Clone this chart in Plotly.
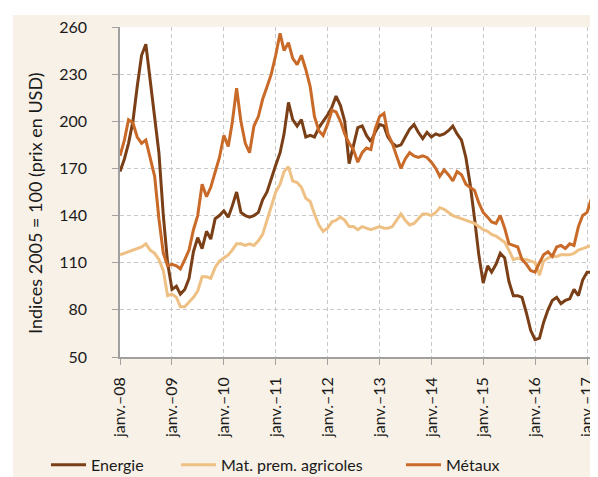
import pandas as pd
import plotly.graph_objects as go

dates = pd.date_range("2008-01-01", periods=111, freq="MS")

energie = [
    168, 176, 186, 200, 222, 242, 249, 225, 205, 180, 140, 110,
    93, 95, 90, 93, 100, 117, 126, 119, 130, 125, 138, 140,
    143, 139, 146, 155, 142, 140, 139, 140, 142, 150, 155, 164,
    172, 180, 192, 212, 201, 197, 201, 190, 191, 190, 196, 200,
    204, 209, 216, 210, 200, 173, 185, 196, 197, 191, 187, 193,
    198, 197, 190, 186, 184, 185, 190, 195, 198, 193, 189, 193,
    190, 192, 191, 192, 194, 197, 192, 188, 177, 160, 138, 115,
    97, 108, 104, 109, 116, 113, 98, 89, 89, 88, 78, 67,
    61, 62, 72, 80, 86, 88, 84, 86, 87, 93, 89, 99,
    104, 104, 96,
]

agricoles = [
    115, 116, 117, 118, 119, 120, 122, 118, 116, 112, 105, 89,
    90, 88, 82, 82, 85, 88, 92, 101, 101, 100, 107, 111,
    113, 115, 118, 122, 122, 121, 122, 121, 124, 128, 137, 146,
    155, 160, 168, 171, 162, 161, 158, 151, 149, 141, 134, 130,
    132, 136, 137, 139, 137, 133, 133, 131, 133, 132, 131, 132,
    133, 132, 132, 133, 137, 141, 137, 134, 135, 138, 141, 141,
    140, 142, 145, 144, 142, 140, 139, 138, 137, 136, 135, 133,
    131, 130, 128, 127, 125, 123, 118, 112, 113, 112, 112, 111,
    110, 102, 111, 113, 114, 114, 115, 115, 115, 116, 118, 119,
    120, 121, 121,
]

metaux = [
    178, 188, 201, 199, 190, 186, 188, 176, 165, 138, 116, 108,
    109, 108, 106, 112, 118, 131, 140, 160, 152, 158, 167, 177,
    191, 184, 199, 221, 200, 186, 180, 197, 203, 214, 222, 230,
    242, 256, 245, 250, 240, 236, 242, 233, 222, 203, 194, 191,
    198, 207, 206, 200, 192, 186, 182, 174, 180, 183, 182, 195,
    203, 205, 192, 186, 178, 170, 176, 180, 178, 177, 178, 177,
    174, 170, 165, 169, 166, 162, 168, 166, 160, 158, 156, 148,
    142, 139, 136, 135, 140, 132, 122, 121, 120, 112, 109, 105,
    104, 110, 115, 117, 114, 120, 121, 119, 122, 121, 133, 140,
    142, 151, 148,
]

series_names = ["Energie", "Mat. prem. agricoles", "Métaux"]
series_colors = ["#7a3f16", "#efc084", "#c96a28"]
legend_ids = ["legend", "legend2", "legend3"]
legend_x = [-0.1548, 0.1171, 0.5878]

years = list(range(2008, 2018))
tick_vals = [pd.Timestamp(f"{y}-01-01") for y in years]
tick_text = [f"janv.–{str(y)[2:]}" for y in years]
y_ticks = [50, 80, 110, 140, 170, 200, 230, 260]

FONT = "Lato, 'Liberation Sans', Arial, sans-serif"

fig = go.Figure()
for name, vals, col, lg in zip(series_names, [energie, agricoles, metaux],
                               series_colors, legend_ids):
    fig.add_trace(go.Scatter(x=dates, y=vals, mode="lines", name=name,
                             line=dict(color=col, width=3), legend=lg))

legend_common = dict(orientation="h", xanchor="left", y=-0.327, yanchor="middle",
                     bgcolor="rgba(0,0,0,0)", font=dict(size=16), itemwidth=35)

# white page border around the beige panel (as in the reference)
border_shapes = [
    dict(type="rect", xref="paper", yref="paper", x0=-0.30, x1=-0.2238,
         y0=-0.40, y1=1.10, fillcolor="#ffffff", line=dict(width=0), layer="above"),
    dict(type="rect", xref="paper", yref="paper", x0=-0.30, x1=1.05,
         y0=1.0364, y1=1.10, fillcolor="#ffffff", line=dict(width=0), layer="above"),
]

fig.update_layout(
    width=590, height=469,
    margin=dict(l=112, r=0, t=19, b=120, autoexpand=False),
    paper_bgcolor="#f8f1e7",
    plot_bgcolor="#ffffff",
    font=dict(family=FONT, size=16, color="#1a1a1a"),
    showlegend=True,
    legend=dict(x=legend_x[0], **legend_common),
    legend2=dict(x=legend_x[1], **legend_common),
    legend3=dict(x=legend_x[2], **legend_common),
    shapes=border_shapes,
    annotations=[dict(text="Indices 2005 = 100 (prix en USD)", textangle=-90,
                      xref="paper", yref="paper", x=-0.1778, y=0.4667,
                      xanchor="center", yanchor="middle", showarrow=False,
                      font=dict(size=18))],
)

fig.update_xaxes(
    range=[pd.Timestamp("2008-01-01"), pd.Timestamp("2017-03-19")],
    tickvals=tick_vals, ticktext=tick_text, tickangle=-90,
    showline=True, linecolor="#a0a0a0", linewidth=1.5,
    ticks="outside", ticklen=6, tickcolor="#a0a0a0",
    showgrid=True, gridcolor="#c8c8c8", griddash="4px,3px", gridwidth=1,
    zeroline=False, ticklabelstandoff=6, automargin=False,
)
fig.update_yaxes(
    range=[50, 260], tickvals=y_ticks,
    showline=True, linecolor="#a0a0a0", linewidth=1.5,
    ticks="outside", ticklen=6, tickcolor="#a0a0a0",
    showgrid=True, gridcolor="#c8c8c8", griddash="4px,3px", gridwidth=1,
    zeroline=False, ticklabelstandoff=22, automargin=False,
)

fig.write_html("out.html")
